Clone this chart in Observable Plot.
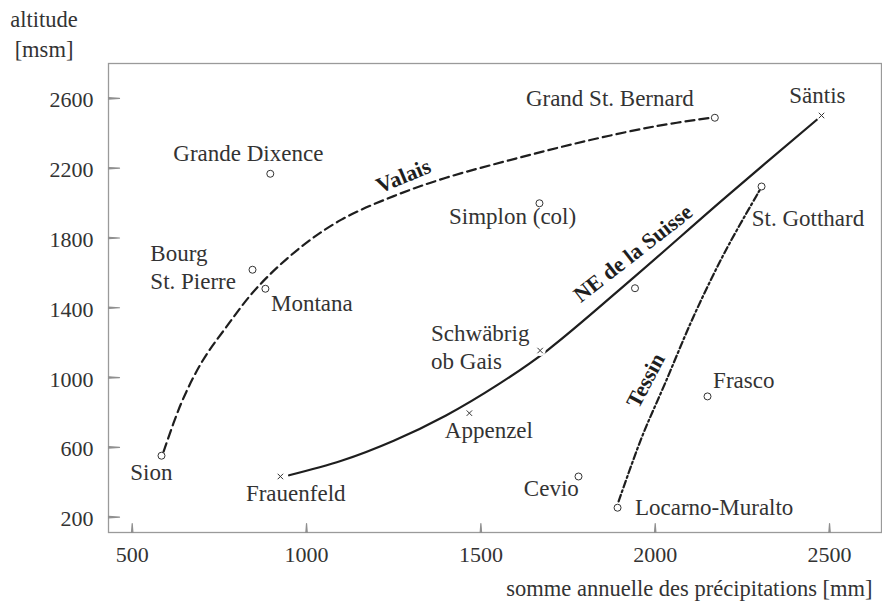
<!DOCTYPE html>
<html>
<head>
<meta charset="utf-8">
<script src="https://cdn.jsdelivr.net/npm/d3@7"></script>
<script src="https://cdn.jsdelivr.net/npm/@observablehq/plot@0.6"></script>
<style>
  html, body { margin: 0; padding: 0; background: white; }
  #chart svg { display: block; }
</style>
</head>
<body>
<div id="chart"></div>
<script>
// ---- data ----
const xTicks = [500, 1000, 1500, 2000, 2500];
const yTicks = [200, 600, 1000, 1400, 1800, 2200, 2600];

// stations marked with open circles
const circleNames = ["Sion", "Grande Dixence", "Bourg St. Pierre", "Montana", "Grand St. Bernard",
  "Simplon (col)", "St. Gotthard", "", "Frasco", "Cevio", "Locarno-Muralto"];
const circleX = [584, 896, 845, 882, 2171, 1668, 2305, 1942, 2150, 1780, 1892];
const circleY = [552, 2168, 1618, 1509, 2489, 1999, 2095, 1512, 892, 433, 254];

// stations marked with crosses
const crossNames = ["Frauenfeld", "Appenzel", "Schwäbrig ob Gais", "Säntis"];
const crossX = [925, 1467, 1670, 2477];
const crossY = [433, 796, 1155, 2502];

// regional curves
const valaisX = [590, 640, 700, 770, 858, 982, 1100, 1250, 1400, 1600, 1800, 2000, 2160];
const valaisY = [575, 850, 1090, 1290, 1515, 1745, 1905, 2040, 2145, 2255, 2355, 2440, 2489];
const neX = [950, 1100, 1250, 1400, 1550, 1690, 1942, 2200, 2472];
const neY = [440, 523, 638, 783, 961, 1155, 1580, 2030, 2492];
const tessinX = [1895, 1960, 2030, 2110, 2200, 2300];
const tessinY = [290, 650, 975, 1350, 1720, 2075];

// station labels
const labelText = ["Grande Dixence", "Bourg", "St. Pierre", "Montana", "Grand St. Bernard", "Säntis",
  "Simplon (col)", "St. Gotthard", "Schwäbrig", "ob Gais", "Appenzel", "Frauenfeld", "Sion",
  "Frasco", "Cevio", "Locarno-Muralto"];
const labelX = [833, 552, 552, 898, 1870, 2465, 1591, 2277, 1357, 1357, 1523, 969, 555, 2166, 1702, 1942];
const labelY = [2283, 1713, 1552, 1423, 2598, 2617, 1923, 1910, 1251, 1094, 697, 334, 458, 983, 363, 257];
const labelAlign = ["middle", "start", "start", "start", "middle", "middle", "middle", "start", "start",
  "start", "middle", "middle", "middle", "start", "middle", "start"];

// curve labels
const curveNames = ["Valais", "NE de la Suisse", "Tessin"];
const curveLabelX = [1278, 1936, 1973];
const curveLabelY = [2154, 1711, 983];
const curveLabelAngle = [-22.6, -38, -62];

// ---- build tables ----
const zip = (xs, ys, extra = {}) => xs.map((x, i) => ({x, y: ys[i], ...Object.fromEntries(Object.entries(extra).map(([k, v]) => [k, v[i]]))}));
const circles = zip(circleX, circleY, {name: circleNames});
const crosses = zip(crossX, crossY, {name: crossNames});
const valais = zip(valaisX, valaisY);
const ne = zip(neX, neY);
const tessin = zip(tessinX, tessinY);
const labels = zip(labelX, labelY, {text: labelText, align: labelAlign});
const curveLabels = zip(curveLabelX, curveLabelY, {text: curveNames, angle: curveLabelAngle});

const W = 882, H = 608;
const mL = 108, mR = 1, mT = 63, mB = 76;
const xDom = [432, 2649], yDom = [112, 2800];
const xTickLen = 9, yTickLen = 11;
const textColor = "#333";
const lineColor = "#1e1e1e";
const frameColor = "#9a9a9a";
const tickColor = "#8f8f8f";
const fmt = d3.format("d");

const labelMark = (align) => Plot.text(labels.filter(d => d.align === align), {
  x: "x", y: "y", text: "text", textAnchor: align, fill: textColor, fontSize: 23
});

const chart = Plot.plot({
  width: W,
  height: H,
  marginLeft: mL,
  marginRight: mR,
  marginTop: mT,
  marginBottom: mB,
  style: {fontFamily: "'Liberation Serif', 'Times New Roman', serif", fontSize: "22px", color: textColor, background: "white"},
  x: {domain: xDom},
  y: {domain: yDom},
  marks: [
    Plot.frame({stroke: frameColor, strokeWidth: 1.3}),
    Plot.axisX(xTicks, {anchor: "bottom", tickSize: 0, tickPadding: 14, label: null, fill: textColor, tickFormat: fmt}),
    Plot.axisY(yTicks, {anchor: "left", tickSize: 0, tickPadding: 15, label: null, fill: textColor, dy: 2, tickFormat: fmt}),
    Plot.text(["somme annuelle des précipitations [mm]"], {frameAnchor: "bottom-right", lineAnchor: "middle", textAnchor: "end", dx: -9, dy: 56, fill: textColor, fontSize: 22.5}),
    Plot.text(["altitude\n[msm]"], {frameAnchor: "top-left", lineAnchor: "middle", textAnchor: "middle", dx: -64.5, dy: -31.3, lineHeight: 1.36, fill: textColor, fontSize: 22.5}),
    Plot.line(valais, {x: "x", y: "y", curve: "catmull-rom", stroke: lineColor, strokeWidth: 2.2, strokeDasharray: "9,5"}),
    Plot.line(ne, {x: "x", y: "y", curve: "catmull-rom", stroke: lineColor, strokeWidth: 2.2}),
    Plot.line(tessin, {x: "x", y: "y", curve: "catmull-rom", stroke: lineColor, strokeWidth: 2.2, strokeDasharray: "7,3,2,3"}),
    Plot.dot(crosses, {x: "x", y: "y", r: 5.5, fill: "white", stroke: "none"}),
    Plot.dot(circles, {x: "x", y: "y", r: 3.5, fill: "white", stroke: textColor, strokeWidth: 1}),
    Plot.dot(crosses, {x: "x", y: "y", symbol: "times", r: 2.6, stroke: textColor, strokeWidth: 1}),
    labelMark("start"),
    labelMark("middle"),
    ...curveLabels.map(d => Plot.text([d], {x: "x", y: "y", text: "text", rotate: d.angle, fontWeight: "bold", fontSize: 22, fill: lineColor})),
    // inward tick marks anchored on the frame (thin spikes)
    Plot.vector(xTicks, {x: d => d, frameAnchor: "bottom", anchor: "start", length: xTickLen, rotate: 0, shape: "spike", r: 0.7, fill: tickColor, stroke: tickColor, strokeWidth: 1.2}),
    Plot.vector(yTicks, {y: d => d, frameAnchor: "left", anchor: "start", length: yTickLen, rotate: 90, shape: "spike", r: 0.7, fill: tickColor, stroke: tickColor, strokeWidth: 1.2})
  ]
});
document.getElementById("chart").appendChild(chart);
</script>
</body>
</html>
